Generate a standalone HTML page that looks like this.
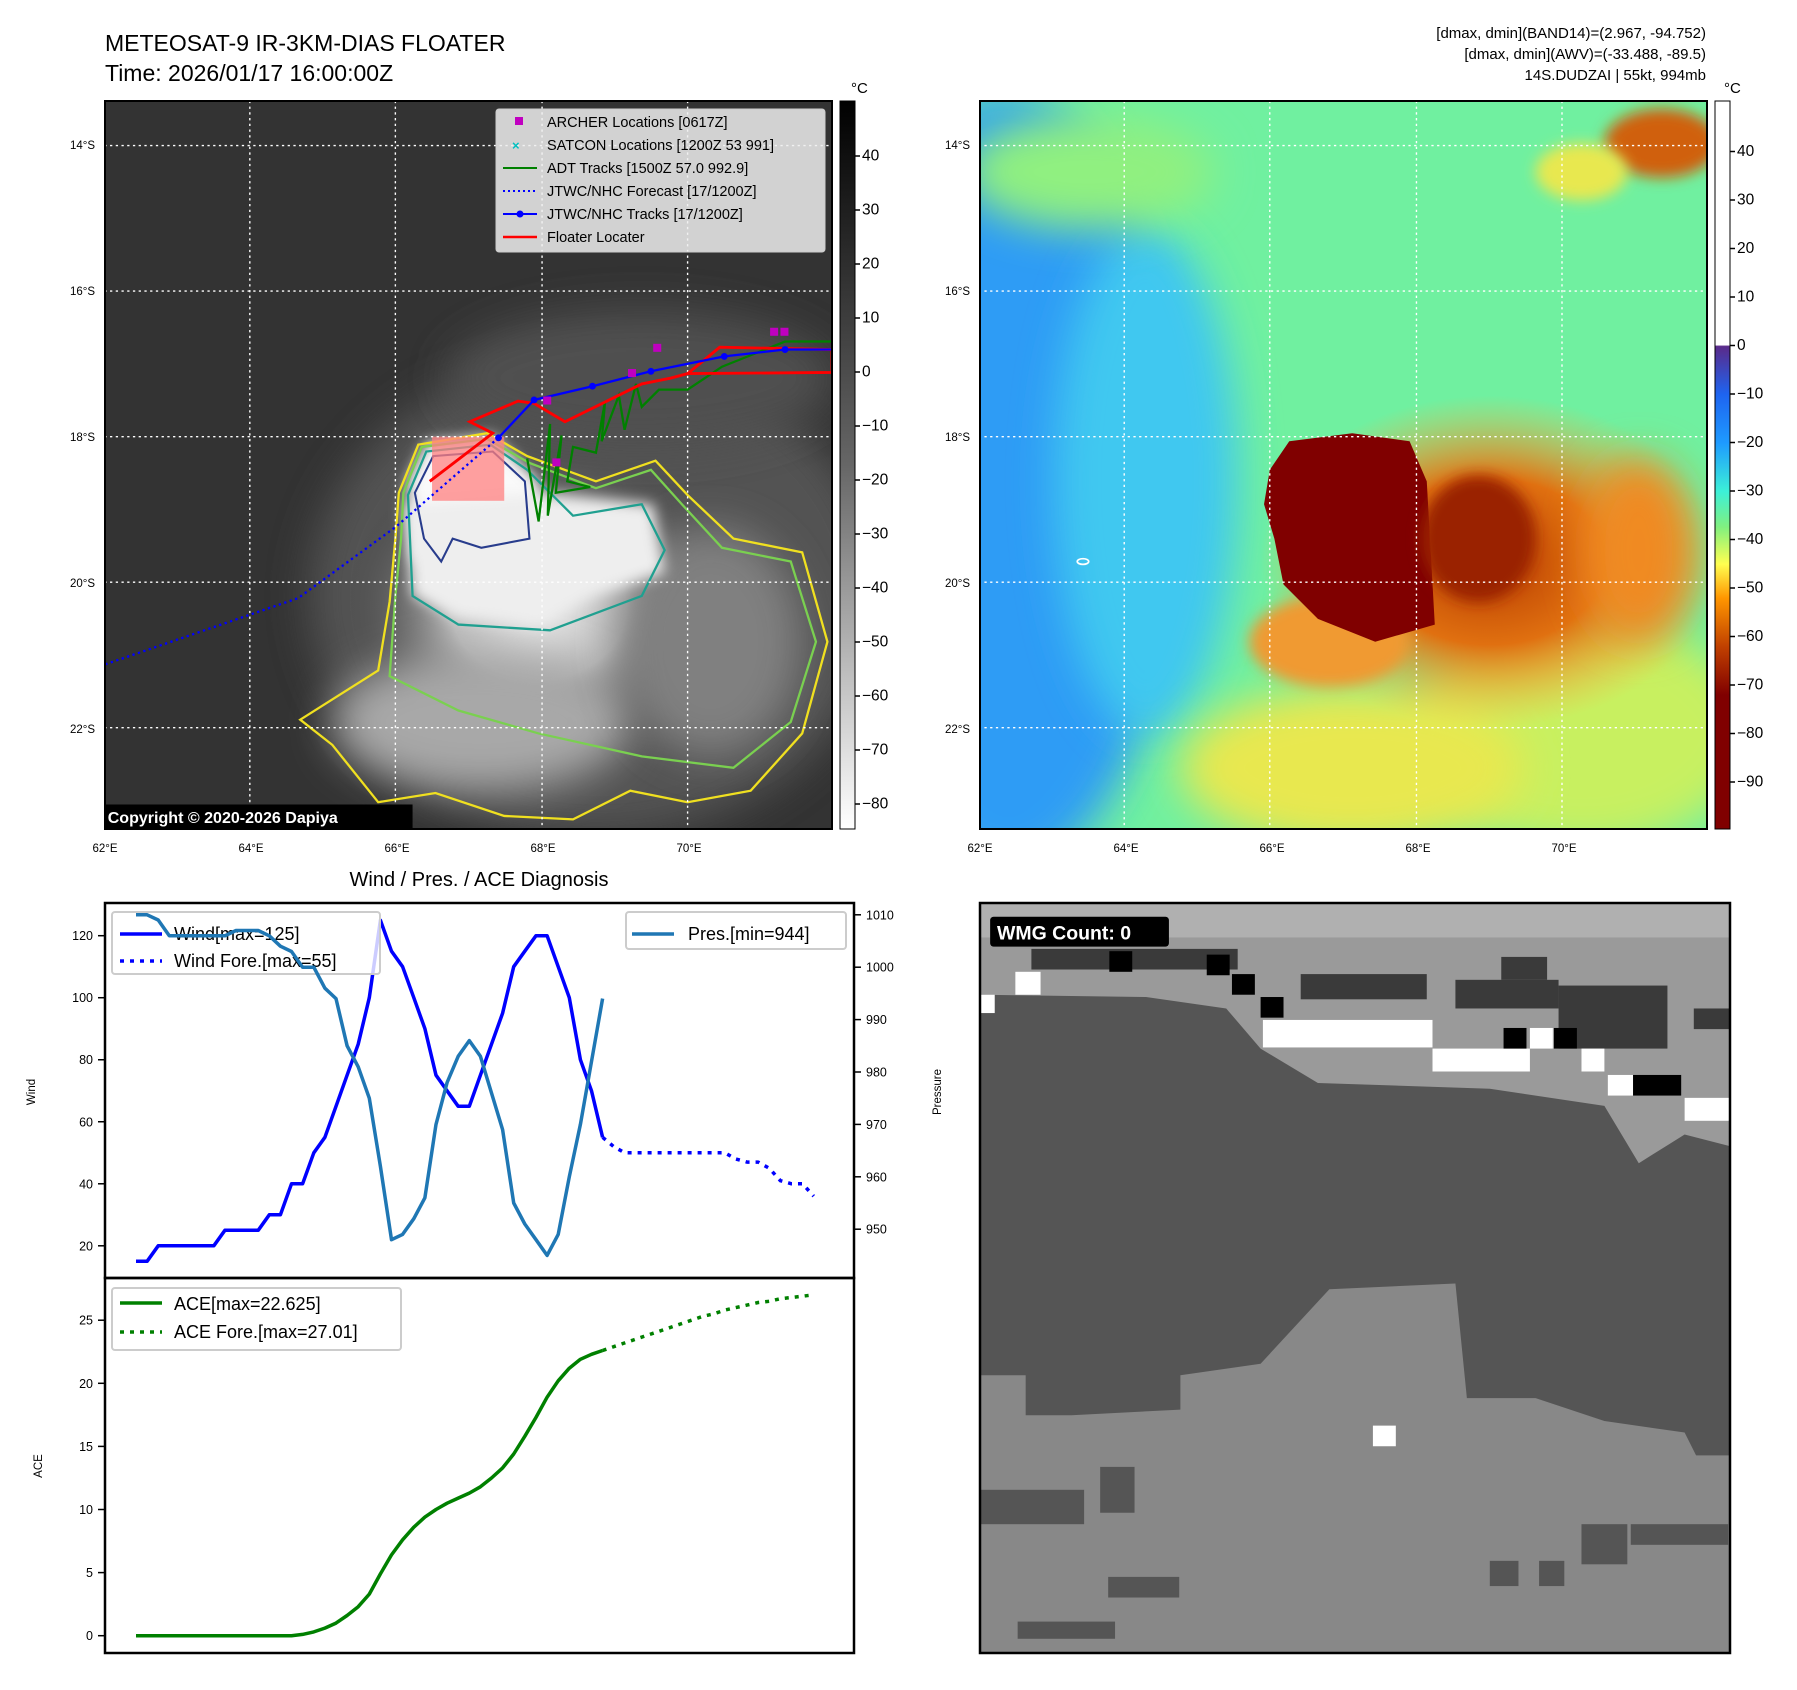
<!DOCTYPE html>
<html><head><meta charset="utf-8"><style>
html,body{margin:0;padding:0;background:#fff}
svg{display:block;font-family:"Liberation Sans","DejaVu Sans",sans-serif}
</style></head><body>
<svg id="fig" width="1797" height="1690" viewBox="0 0 1797 1690" xmlns="http://www.w3.org/2000/svg">
<defs>
<clipPath id="cl1"><rect x="105" y="101" width="727" height="728"/></clipPath>
<clipPath id="cl2"><rect x="980" y="101" width="727" height="728"/></clipPath>
<clipPath id="cl3"><rect x="980" y="903" width="750" height="750"/></clipPath>
<filter id="bl" x="-50%" y="-50%" width="200%" height="200%"><feGaussianBlur stdDeviation="18"/></filter>
<filter id="bl2" x="-50%" y="-50%" width="200%" height="200%"><feGaussianBlur stdDeviation="6"/></filter>
<linearGradient id="cb1" x1="0" y1="0" x2="0" y2="1"><stop offset="0" stop-color="#000"/><stop offset="0.5" stop-color="#666"/><stop offset="1" stop-color="#fff"/></linearGradient>
<linearGradient id="cb2" x1="0" y1="0" x2="0" y2="1">
<stop offset="0" stop-color="#fff"/><stop offset="0.335" stop-color="#fff"/><stop offset="0.337" stop-color="#5a2a8a"/>
<stop offset="0.403" stop-color="#1e64f0"/><stop offset="0.47" stop-color="#1e9bff"/><stop offset="0.536" stop-color="#3cf0d8"/>
<stop offset="0.585" stop-color="#80f080"/><stop offset="0.636" stop-color="#ffff50"/><stop offset="0.683" stop-color="#ff9600"/>
<stop offset="0.75" stop-color="#c04000"/><stop offset="0.816" stop-color="#800000"/><stop offset="1" stop-color="#800000"/></linearGradient>
<radialGradient id="cloud" cx="0.5" cy="0.5" r="0.5"><stop offset="0" stop-color="#eee"/><stop offset="0.45" stop-color="#bbb"/><stop offset="1" stop-color="#444" stop-opacity="0"/></radialGradient>
<radialGradient id="halo" cx="0.5" cy="0.5" r="0.5"><stop offset="0" stop-color="#b83c00"/><stop offset="0.5" stop-color="#e07010"/><stop offset="1" stop-color="#ffb040" stop-opacity="0"/></radialGradient>
</defs>

<text x="105" y="51" font-size="23">METEOSAT-9 IR-3KM-DIAS FLOATER</text>
<text x="105" y="81" font-size="23">Time: 2026/01/17 16:00:00Z</text>
<g font-size="15" text-anchor="end">
<text x="1706" y="38">[dmax, dmin](BAND14)=(2.967, -94.752)</text>
<text x="1706" y="59">[dmax, dmin](AWV)=(-33.488, -89.5)</text>
<text x="1706" y="80">14S.DUDZAI | 55kt, 994mb</text>
</g>

<g clip-path="url(#cl1)">
<rect x="105" y="101" width="727" height="728" fill="#333"/>
<g transform="scale(1.146)">
<ellipse cx="520" cy="520" rx="250" ry="210" fill="#5c5c5c" filter="url(#bl)" opacity="0.8"/>
<ellipse cx="560" cy="330" rx="170" ry="60" fill="#505050" filter="url(#bl)"/>
<ellipse cx="470" cy="530" rx="170" ry="140" fill="url(#cloud)"/>
<ellipse cx="420" cy="630" rx="130" ry="60" fill="#a8a8a8" filter="url(#bl)"/>
<ellipse cx="620" cy="560" rx="80" ry="100" fill="#808080" filter="url(#bl)"/>
<path d="M355,420 L372,386 L430,380 L470,420 L470,480 L460,490 L400,485 L360,490 Z" fill="#fafafa" filter="url(#bl2)"/>
<path d="M352,440 L360,520 L400,540 L470,545 L520,520 L580,500 L570,440 L470,430 Z" fill="#eee" filter="url(#bl2)"/>
<path fill="none" stroke="#f0e020" stroke-width="2" d="M348,430 L365,388 L425,378 L460,398 L520,420 L572,402 L600,432 L640,470 L700,482 L722,560 L700,640 L655,690 L600,700 L550,690 L500,715 L440,712 L380,692 L330,700 L290,650 L262,628 L330,585 L340,525 L345,470 Z"/>
<path fill="none" stroke="#7ad050" stroke-width="2" d="M352,430 L368,390 L425,383 L462,404 L520,426 L568,410 L595,440 L630,478 L690,490 L712,560 L690,630 L640,670 L560,660 L470,640 L400,620 L340,590 L345,520 L350,470 Z"/>
<path fill="none" stroke="#20a090" stroke-width="2" d="M356,432 L372,394 L428,388 L460,410 L500,450 L560,440 L580,480 L560,520 L480,550 L400,545 L360,520 Z"/>
<path fill="none" stroke="#283c8c" stroke-width="1.8" d="M362,430 L378,398 L430,394 L458,420 L462,470 L420,478 L395,470 L385,490 L370,470 Z"/>
<rect x="377" y="381" width="63" height="56" fill="#ff8080" opacity="0.75"/>
<g fill="none" stroke="#fff" stroke-dasharray="2,3" stroke-width="1.2">
<line x1="218" y1="88" x2="218" y2="723"/><line x1="345" y1="88" x2="345" y2="723"/><line x1="473" y1="88" x2="473" y2="723"/><line x1="600" y1="88" x2="600" y2="723"/>
<line x1="91" y1="127" x2="726" y2="127"/><line x1="91" y1="254" x2="726" y2="254"/><line x1="91" y1="381" x2="726" y2="381"/><line x1="91" y1="508" x2="726" y2="508"/><line x1="91" y1="635" x2="726" y2="635"/>
</g>
<polyline fill="none" stroke="#00f" stroke-width="2" stroke-dasharray="2,3" points="435,382 345,460 260,522 91,580"/>
<polyline fill="none" stroke="#008000" stroke-width="2" points="460,400 470,455 480,370 478,450 490,380 485,430 515,425 495,420 500,390 520,395 528,350 525,385 540,345 545,375 555,335 560,355 575,340 600,340 630,320 685,298 726,298"/>
<polyline fill="none" stroke="#f00" stroke-width="2.5" points="375,420 430,378 410,368 452,350 466,352 493,368 560,335 585,330 600,326 726,325 726,305 628,303 600,326"/>
<polyline fill="none" stroke="#00f" stroke-width="2" points="435,382 466,349 517,337 568,324 632,311 685,305 726,305"/>
<g fill="#00f"><circle cx="435" cy="382" r="3"/><circle cx="466" cy="349" r="3"/><circle cx="517" cy="337" r="3"/><circle cx="568" cy="324" r="3"/><circle cx="632" cy="311" r="3"/><circle cx="685" cy="305" r="3"/></g>
<g fill="#c000c0"><rect x="474" y="346" width="7" height="7"/><rect x="482" y="400" width="7" height="7"/><rect x="548" y="322" width="7" height="7"/><rect x="570" y="300" width="7" height="7"/><rect x="672" y="286" width="7" height="7"/><rect x="681" y="286" width="7" height="7"/></g>
<rect x="89" y="702" width="271" height="21" fill="#000"/>
<text x="94" y="718" font-size="14" font-weight="bold" fill="#fff">Copyright © 2020-2026 Dapiya</text>
</g>
</g>
<rect x="105" y="101" width="727" height="728" fill="none" stroke="#000" stroke-width="2"/>
<g font-size="14.5">
<rect x="496" y="109" width="329" height="143" fill="#eee" fill-opacity="0.85" stroke="#ccc" rx="3"/>
<rect x="515" y="117" width="8" height="8" fill="#c000c0"/><text x="547" y="127">ARCHER Locations [0617Z]</text>
<text x="512" y="150" fill="#00c0c0" font-size="13" font-weight="bold">×</text><text x="547" y="150">SATCON Locations [1200Z 53 991]</text>
<line x1="503" y1="168" x2="537" y2="168" stroke="#008000" stroke-width="2"/><text x="547" y="173">ADT Tracks [1500Z 57.0 992.9]</text>
<line x1="503" y1="191" x2="537" y2="191" stroke="#00f" stroke-width="2" stroke-dasharray="2,3"/><text x="547" y="196">JTWC/NHC Forecast [17/1200Z]</text>
<line x1="503" y1="214" x2="537" y2="214" stroke="#00f" stroke-width="2"/><circle cx="520" cy="214" r="3.5" fill="#00f"/><text x="547" y="219">JTWC/NHC Tracks [17/1200Z]</text>
<line x1="503" y1="237" x2="537" y2="237" stroke="#f00" stroke-width="2.5"/><text x="547" y="242">Floater Locater</text>
</g>
<g>
<rect x="840" y="101" width="15" height="728" fill="url(#cb1)" stroke="#000" stroke-width="1"/>
<text x="851" y="93" font-size="15">°C</text>
<g id="cb1t" font-size="15"></g>
</g>

<g clip-path="url(#cl2)">
<rect x="980" y="101" width="727" height="728" fill="#70f0a0"/>
<g transform="scale(1.146)">
<ellipse cx="880" cy="420" rx="150" ry="340" fill="#2e9cf5" filter="url(#bl)"/>
<ellipse cx="1000" cy="420" rx="80" ry="220" fill="#40c8f0" filter="url(#bl)"/>
<ellipse cx="950" cy="150" rx="110" ry="50" fill="#90f080" filter="url(#bl)"/>
<ellipse cx="1380" cy="640" rx="150" ry="100" fill="#c8f060" filter="url(#bl)"/>
<ellipse cx="1180" cy="670" rx="150" ry="70" fill="#e8e850" filter="url(#bl)"/>
<ellipse cx="1450" cy="125" rx="50" ry="30" fill="#d06010" filter="url(#bl2)"/>
<ellipse cx="1380" cy="150" rx="40" ry="25" fill="#e8e850" filter="url(#bl2)"/>
<ellipse cx="1300" cy="490" rx="200" ry="145" fill="url(#halo)"/>
<ellipse cx="1160" cy="560" rx="70" ry="40" fill="#f09a30" filter="url(#bl2)"/>
<ellipse cx="1430" cy="480" rx="50" ry="80" fill="#f08a20" filter="url(#bl)"/>
<path d="M1108,410 L1125,385 L1180,378 L1230,385 L1245,420 L1252,545 L1200,560 L1150,540 L1120,510 L1112,470 L1103,440 Z" fill="#800000"/>
<ellipse cx="1290" cy="470" rx="50" ry="55" fill="#9a2000" filter="url(#bl2)"/>
<g fill="none" stroke="#fff" stroke-dasharray="2,3" stroke-width="1.2">
<line x1="981" y1="88" x2="981" y2="723"/><line x1="1108" y1="88" x2="1108" y2="723"/><line x1="1236" y1="88" x2="1236" y2="723"/><line x1="1363" y1="88" x2="1363" y2="723"/>
<line x1="854" y1="127" x2="1490" y2="127"/><line x1="854" y1="254" x2="1490" y2="254"/><line x1="854" y1="381" x2="1490" y2="381"/><line x1="854" y1="508" x2="1490" y2="508"/><line x1="854" y1="635" x2="1490" y2="635"/>
</g>
<ellipse cx="945" cy="490" rx="5" ry="2.5" fill="none" stroke="#fff" stroke-width="1.5"/>
</g>
</g>
<rect x="980" y="101" width="727" height="728" fill="none" stroke="#000" stroke-width="2"/>
<g>
<rect x="1715" y="101" width="15" height="728" fill="url(#cb2)" stroke="#000" stroke-width="1"/>
<text x="1724" y="93" font-size="15">°C</text>
<g id="cb2t" font-size="15"></g>
</g>
<g id="maplabels" font-size="11.5"></g>

<g clip-path="url(#cl3)">
<rect x="980" y="903" width="750" height="750" fill="#555"/>
<g transform="scale(1.146)">
<path d="M856,1200 L895,1200 L895,1235 L935,1235 L1030,1230 L1030,1200 L1100,1190 L1160,1125 L1270,1120 L1280,1220 L1340,1220 L1400,1240 L1470,1250 L1480,1270 L1510,1270 L1510,1443 L856,1443 Z" fill="#888"/>
<g fill="#555"><rect x="967" y="1376" width="62" height="18"/><rect x="888" y="1415" width="85" height="15"/><rect x="1300" y="1362" width="25" height="22"/><rect x="1343" y="1362" width="22" height="22"/><rect x="1380" y="1330" width="40" height="35"/><rect x="1423" y="1330" width="85" height="18"/><rect x="856" y="1300" width="90" height="30"/><rect x="960" y="1280" width="30" height="40"/></g>
<rect x="1198" y="1244" width="20" height="18" fill="#fff"/>
<path d="M856,788 L1509,800 L1509,1000 L1470,990 L1430,1015 L1400,965 L1300,950 L1150,945 L1100,915 L1070,880 L1000,870 L856,868 Z" fill="#9a9a9a"/>
<rect x="856" y="788" width="653" height="30" fill="#b0b0b0"/>
<g fill="#3a3a3a"><rect x="900" y="828" width="180" height="18"/><rect x="1135" y="850" width="110" height="22"/><rect x="1270" y="855" width="90" height="25"/><rect x="1360" y="860" width="95" height="55"/><rect x="1310" y="835" width="40" height="20"/><rect x="1478" y="880" width="31" height="18"/></g>
<g fill="#fff"><rect x="886" y="848" width="22" height="20"/><rect x="856" y="868" width="12" height="16"/><rect x="1102" y="890" width="148" height="24"/><rect x="1250" y="915" width="85" height="20"/><rect x="1380" y="915" width="20" height="20"/><rect x="1403" y="938" width="22" height="18"/><rect x="1470" y="958" width="39" height="20"/><rect x="1335" y="897" width="20" height="18"/></g>
<g fill="#000"><rect x="968" y="830" width="20" height="18"/><rect x="1053" y="833" width="20" height="18"/><rect x="1075" y="850" width="20" height="18"/><rect x="1100" y="870" width="20" height="18"/><rect x="1312" y="897" width="20" height="18"/><rect x="1356" y="897" width="20" height="18"/><rect x="1425" y="938" width="42" height="18"/></g>
<rect x="864" y="800" width="156" height="26" rx="3" fill="#000"/>
<text x="870" y="820" font-size="17" font-weight="bold" fill="#fff">WMG Count: 0</text>
</g>
</g>
<rect x="980" y="903" width="750" height="750" fill="none" stroke="#000" stroke-width="2.5"/>

<text x="479" y="886" font-size="20" text-anchor="middle">Wind / Pres. / ACE Diagnosis</text>
<g id="chartsA"></g>
<g font-size="18">
<rect x="112" y="912" width="268" height="62" fill="#fff" fill-opacity="0.8" stroke="#ccc" stroke-width="2" rx="3"/>
<line x1="120" y1="934" x2="162" y2="934" stroke="#00f" stroke-width="3.5"/><text x="174" y="940">Wind[max=125]</text>
<line x1="120" y1="961" x2="162" y2="961" stroke="#00f" stroke-width="3.5" stroke-dasharray="4,6"/><text x="174" y="967">Wind Fore.[max=55]</text>
</g>
<g id="charts"></g>
<rect x="105" y="903" width="749" height="375" fill="none" stroke="#000" stroke-width="2.5"/>
<rect x="105" y="1278" width="749" height="375" fill="none" stroke="#000" stroke-width="2.5"/>
<text font-size="11.5" transform="translate(35,1092) rotate(-90)" text-anchor="middle">Wind</text>
<text font-size="11.5" transform="translate(941,1092) rotate(-90)" text-anchor="middle">Pressure</text>
<text font-size="11.5" transform="translate(42,1466) rotate(-90)" text-anchor="middle">ACE</text>
<g font-size="18">
<rect x="626" y="912" width="220" height="37" fill="#fff" fill-opacity="0.8" stroke="#ccc" stroke-width="2" rx="3"/>
<line x1="632" y1="934" x2="674" y2="934" stroke="#1f77b4" stroke-width="3.5"/><text x="688" y="940">Pres.[min=944]</text>
</g>
<g font-size="18">
<rect x="112" y="1288" width="289" height="62" fill="#fff" fill-opacity="0.8" stroke="#ccc" stroke-width="2" rx="3"/>
<line x1="120" y1="1303" x2="162" y2="1303" stroke="#008000" stroke-width="3.5"/><text x="174" y="1310">ACE[max=22.625]</text>
<line x1="120" y1="1332" x2="162" y2="1332" stroke="#008000" stroke-width="3.5" stroke-dasharray="4,6"/><text x="174" y="1338">ACE Fore.[max=27.01]</text>
</g>
</svg>
<script>
const windVals=[15,15,20,20,20,20,20,20,25,25,25,25,30,30,40,40,50,55,65,75,85,100,125,115,110,100,90,75,70,65,65,75,85,95,110,115,120,120,110,100,80,70,55];
const windFore=[55,52,50,50,50,50,50,50,50,50,50,50,48,47,47,45,41,40,40,36];
const presVals=[1010,1010,1009,1006,1006,1006,1006,1006,1006,1007,1007,1007,1006,1004,1003,1000,1000,996,994,985,981,975,962,948,949,952,956,970,978,983,986,983,976,969,955,951,948,945,949,960,970,982,994];
const aceVals=[0,0,0,0,0,0,0,0,0,0,0,0,0,0,0,0.1,0.3,0.6,1.0,1.6,2.3,3.3,4.9,6.4,7.6,8.6,9.4,10.0,10.5,10.9,11.3,11.8,12.5,13.3,14.4,15.8,17.3,18.9,20.2,21.2,21.9,22.3,22.6];
const aceFore=[22.6,22.9,23.2,23.5,23.8,24.1,24.4,24.7,25.0,25.3,25.5,25.8,26.0,26.2,26.4,26.5,26.7,26.8,26.9,27.01];
const windTicks=[20,40,60,80,100,120];
const presTicks=[950,960,970,980,990,1000,1010];
const aceTicks=[0,5,10,15,20,25];
const cb1Ticks=[40,30,20,10,0,-10,-20,-30,-40,-50,-60,-70,-80];
const cb2Ticks=[40,30,20,10,0,-10,-20,-30,-40,-50,-60,-70,-80,-90];
const latTicks=[14,16,18,20,22];
const lonTicks=[62,64,66,68,70];
const NS='http://www.w3.org/2000/svg';
const xS=i=>136+11.11*i;
const yW=v=>1245.8-(v-20)*3.101;
const yP=p=>1229.2-(p-950)*5.24;
const yA=a=>1635.7-a*12.62;
const cb1Y=v=>804-(v+80)*5.4;
const cb2Y=v=>782-(v+90)*4.85;
const lonX=l=>105+(l-62)*73;
const latY=l=>145+(l-14)*73;
function mk(tag,attrs,parent){const e=document.createElementNS(NS,tag);for(const k in attrs)e.setAttribute(k,attrs[k]);parent.appendChild(e);return e;}
const chA=document.getElementById('chartsA');
const ch=document.getElementById('charts');
function line(vals,off,yf,color,dash,name,parent){
  const pts=vals.map((v,i)=>xS(i+off).toFixed(1)+','+yf(v).toFixed(1)).join(' ');
  const p=mk('polyline',{points:pts,fill:'none',stroke:color,'stroke-width':3.5,'stroke-linejoin':'round'},parent);
  if(dash)p.setAttribute('stroke-dasharray',dash);
  
  
}
line(windVals,0,yW,'#00f',null,'wind-line',chA);
line(windFore,42,yW,'#00f','4,6','wind-forecast-line',chA);
line(presVals,0,yP,'#1f77b4',null,'pressure-line',ch);
line(aceVals,0,yA,'#008000',null,'ace-line',ch);
line(aceFore,42,yA,'#008000','4,6','ace-forecast-line',ch);
function tick(x1,x2,y,label,anchor,tx,parent,size){
  mk('line',{x1:x1,x2:x2,y1:y,y2:y,stroke:'#000','stroke-width':1.5},parent);
  const t=mk('text',{x:tx,y:y+4.5,'font-size':size||12.5,'text-anchor':anchor},parent);
  t.textContent=label;
  
  
}
windTicks.forEach(v=>tick(98,105,yW(v),v,'end',93,ch));
presTicks.forEach(v=>tick(854,861,yP(v),v,'start',866,ch));
aceTicks.forEach(v=>tick(98,105,yA(v),v,'end',93,ch));
const c1=document.getElementById('cb1t');
cb1Ticks.forEach(v=>tick(855,860,cb1Y(v),v<0?'\u2212'+(-v):v,'start',862,c1,15.5));
const c2=document.getElementById('cb2t');
cb2Ticks.forEach(v=>tick(1730,1735,cb2Y(v),v<0?'\u2212'+(-v):v,'start',1737,c2,15.5));
const ml=document.getElementById('maplabels');
[0,875].forEach(dx=>{
  latTicks.forEach(l=>{const t=mk('text',{x:dx+95,y:latY(l)+4,'text-anchor':'end'},ml);t.textContent=l+'°S';
    
    });
  lonTicks.forEach(l=>{const t=mk('text',{x:dx+lonX(l),y:852,'text-anchor':'middle'},ml);t.textContent=l+'°E';
    
    });
});
</script>
</body></html>
